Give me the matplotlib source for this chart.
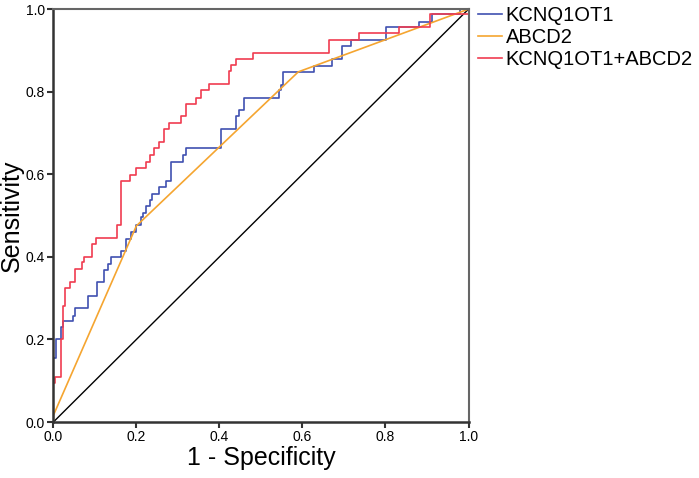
import matplotlib
matplotlib.use("Agg")
import matplotlib.pyplot as plt

plt.rcParams["font.family"] = ["Liberation Sans", "DejaVu Sans"]

# ROC points (1 - specificity, sensitivity)
kcnq_fpr = [0, 0, 0.006, 0.019, 0.024, 0.047, 0.052, 0.083, 0.105, 0.123, 0.131,
            0.139, 0.164, 0.174, 0.188, 0.200, 0.212, 0.216, 0.222, 0.232, 0.238,
            0.254, 0.271, 0.283, 0.312, 0.320, 0.405, 0.441, 0.447, 0.459, 0.543,
            0.548, 0.554, 0.628, 0.671, 0.695, 0.717, 0.802, 0.880, 0.912, 0.979, 1.0]
kcnq_tpr = [0, 0.155, 0.20, 0.23, 0.245, 0.258, 0.277, 0.306, 0.339, 0.369, 0.383,
            0.40, 0.414, 0.444, 0.46, 0.478, 0.496, 0.507, 0.523, 0.537, 0.553,
            0.569, 0.584, 0.630, 0.647, 0.663, 0.709, 0.740, 0.756, 0.785, 0.803,
            0.815, 0.848, 0.862, 0.878, 0.910, 0.925, 0.957, 0.969, 0.988, 1.0, 1.0]

abcd_fpr = [0, 0, 0.2, 0.59, 1.0]
abcd_tpr = [0, 0.016, 0.475, 0.848, 1.0]

comb_fpr = [0, 0, 0.005, 0.019, 0.024, 0.029, 0.040, 0.052, 0.069, 0.075, 0.094, 0.102,
            0.153, 0.163, 0.185, 0.200, 0.222, 0.234, 0.242, 0.254, 0.266, 0.279,
            0.308, 0.320, 0.343, 0.355, 0.375, 0.423, 0.428, 0.441, 0.481,
            0.663, 0.737, 0.832, 0.908, 1.0]
comb_tpr = [0, 0.095, 0.11, 0.20, 0.28, 0.325, 0.34, 0.37, 0.387, 0.40, 0.43, 0.446,
            0.478, 0.584, 0.599, 0.616, 0.630, 0.647, 0.663, 0.677, 0.709, 0.723,
            0.740, 0.770, 0.785, 0.803, 0.818, 0.850, 0.865, 0.878, 0.894,
            0.925, 0.941, 0.957, 0.988, 1.0]

ticks = [0.0, 0.2, 0.4, 0.6, 0.8, 1.0]

fig = plt.figure(figsize=(6.99, 4.78), dpi=100)
ax = fig.add_axes([0.0763, 0.117, 0.594, 0.864])

ax.plot([0, 1], [0, 1], color="black", lw=1.0)
l1, = ax.plot(kcnq_fpr, kcnq_tpr, drawstyle="steps-post", color="#4050b0", lw=1.2, label="KCNQ1OT1")
l2, = ax.plot(abcd_fpr, abcd_tpr, color="#f5a530", lw=1.2, label="ABCD2")
l3, = ax.plot(comb_fpr, comb_tpr, drawstyle="steps-post", color="#f03c50", lw=1.2, label="KCNQ1OT1+ABCD2")

ax.set_xlim(0, 1)
ax.set_ylim(0, 1)
ax.set_xticks(ticks)
ax.set_yticks(ticks)
ax.set_xticklabels([f"{t:.1f}" for t in ticks])
ax.set_yticklabels([f"{t:.1f}" for t in ticks])
ax.tick_params(direction="out", length=4, width=1.5, labelsize=10, color="#333333", pad=2)

for side in ["left", "bottom"]:
    ax.spines[side].set_color("#333333")
    ax.spines[side].set_linewidth(1.8)
for side in ["top", "right"]:
    ax.spines[side].set_color("#666666")
    ax.spines[side].set_linewidth(1.5)

ax.set_xlabel("1 - Specificity", fontsize=18, labelpad=1)
ax.set_ylabel("Sensitivity", fontsize=18, labelpad=1)

fig.legend(handles=[l1, l2, l3], loc="upper left", bbox_to_anchor=(0.666, 1.012),
           frameon=False, fontsize=14.5, handlelength=1.2, handletextpad=0.2,
           labelspacing=0.15, borderaxespad=0.2)

fig.savefig("out.png", dpi=100)
